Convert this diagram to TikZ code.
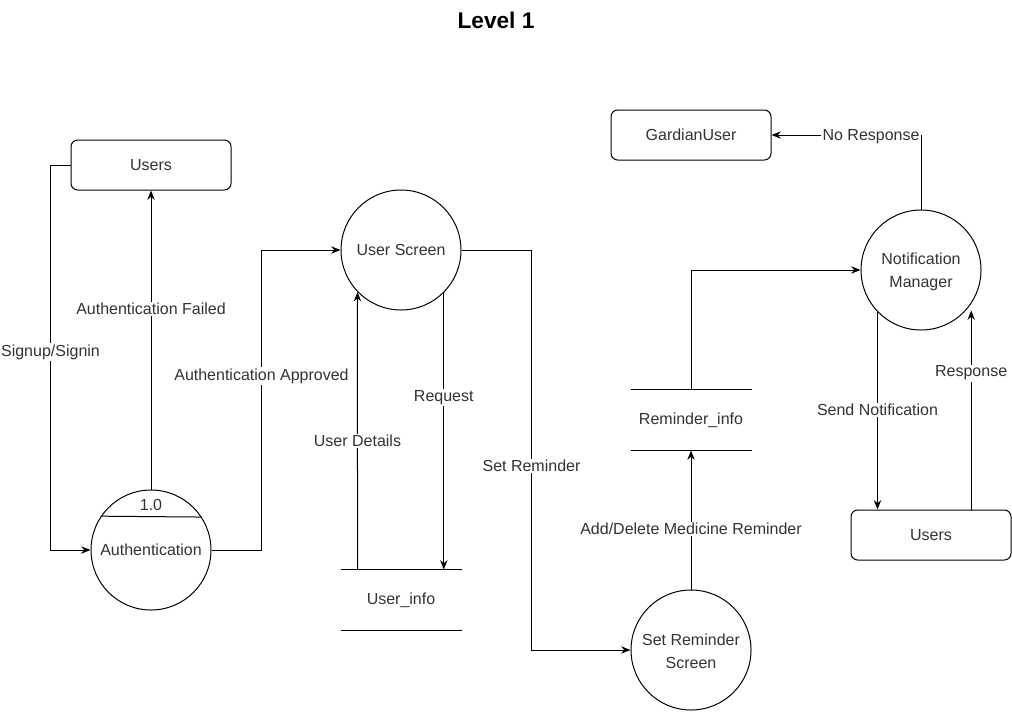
\documentclass[tikz,border=0pt]{standalone}
\usepackage{fontspec}
\setmainfont{Liberation Sans}
\usetikzlibrary{arrows.meta,calc}
\definecolor{ink}{HTML}{333333}
\tikzset{
  px/.style={x=0.75pt,y=-0.75pt},
  base/.style={font=\fontsize{12}{17.25}\selectfont,text=ink,line width=0.75pt},
  proc/.style={base,draw,circle,minimum size=90pt,inner sep=0pt,align=center},
  ent/.style={base,draw,rounded corners=5pt,minimum width=120pt,minimum height=37.5pt,inner sep=0pt},
  store/.style={base,minimum width=90pt,minimum height=45pt,inner sep=0pt},
  lbl/.style={base,fill=white,inner sep=1pt},
  arr/.style={line width=0.75pt,-{Stealth[length=7pt,width=5.5pt]}},
  ln/.style={line width=0.75pt}
}
\begin{document}
\begin{tikzpicture}[px]
\useasboundingbox (0,0) rectangle (1012,711);

\node[font=\bfseries\fontsize{17}{20}\selectfont] (title) at (496,20) {Level 1};

% external entities
\node[ent] (users)   at (151,165) {Users};
\node[ent] (gardian) at (691,135) {GardianUser};
\node[ent] (users2)  at (931,535) {Users};

% processes
\node[proc] (auth)  at (151,550) {};
\node[base] (authno) at (151,505) {1.0};
\node[base] (authtx) at (151,550) {Authentication};
\draw[ln] (auth.146.6) -- (auth.33.4);
\node[proc] (uscreen) at (401,250) {User Screen};
\node[proc] (setrem)  at (691,650) {};
\node[base,align=center] (setremtx) at (691,651.5) {Set Reminder\\Screen};
\node[proc] (notif)   at (921,270) {};
\node[base,align=center] (notiftx) at (921,271.5) {Notification\\Manager};

% data stores
\node[store] (userinfo) at (401,600) {User\_info};
\draw[ln] (userinfo.north west) -- (userinfo.north east);
\draw[ln] (userinfo.south west) -- (userinfo.south east);
\node[store] (reminfo) at (691,420) {Reminder\_info};
\draw[ln] (reminfo.north west) -- (reminfo.north east);
\draw[ln] (reminfo.south west) -- (reminfo.south east);

% data flows
\draw[arr] (users.west) -- ++(-20,0) |- node[lbl,pos=0.243]{Signup/Signin} (auth.west);
\draw[arr] (auth.north) -- node[lbl,pos=0.603]{Authentication Failed} (users.south);
\draw[arr] (auth.east) -- ++(50,0) |- node[lbl,pos=0.29]{Authentication Approved} (uscreen.west);
\coordinate (udstart) at ($(userinfo.north west)+(17,0)$);
\draw[arr] (udstart) -- node[lbl,pos=0.464]{User Details} (uscreen.224.2);
\draw[arr] (uscreen.315.8) -- node[lbl,pos=0.38]{Request} (uscreen.315.8 |- userinfo.north);
\draw[arr] (uscreen.east) -- ++(70,0) |- node[lbl,pos=0.27]{Set Reminder} (setrem.west);
\draw[arr] (setrem.north) -- node[lbl,pos=0.436]{Add/Delete Medicine Reminder} (reminfo.south);
\draw[arr] (reminfo.north) |- (notif.west);
\draw[arr] (notif.north) |- node[lbl,pos=0.667,yshift=-1]{No Response} (gardian.east);
\draw[arr] (notif.224.2) -- node[lbl,pos=0.495]{Send Notification} (notif.224.2 |- users2.north);
\draw[arr,shorten >=5pt] (users2.north -| notif.326.4) -- node[lbl,pos=0.663]{Response} (notif.326.4);
\end{tikzpicture}
\end{document}
